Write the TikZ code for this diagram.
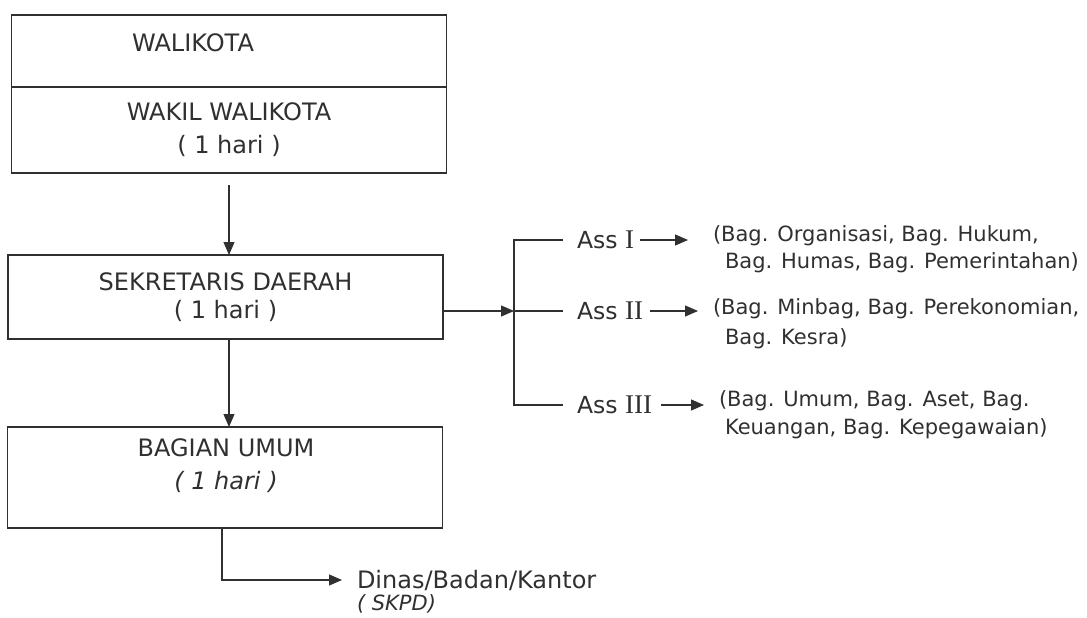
\documentclass[tikz,border=0pt]{standalone}
\usepackage{fontspec}
\setmainfont{DejaVu Sans}
\newfontfamily\numfont{Liberation Serif}
\usetikzlibrary{arrows.meta}
\definecolor{ink}{HTML}{303030}

\begin{document}
\begin{tikzpicture}[x=1pt, y=-1pt, line width=1.1pt, draw=ink, text=ink,
            every node/.style = {inner sep = 0pt,
                                 outer sep = 0pt,
                                 font = \fontsize{24}{28}\selectfont},
            box/.style        = {draw,
                                 minimum width = 435pt},
            asslbl/.style     = {anchor = west,
                                 font = \fontsize{23.5}{28}\selectfont},
            bagtxt/.style     = {anchor = north west,
                                 align = left,
                                 font = \fontsize{21}{28}\selectfont},
            arr/.style        = {-{Triangle[length=13pt, width=11pt]}}
            ]
            \useasboundingbox (0,0) rectangle (1087,618);

            % left column
            \node [box, minimum height = 72pt] (wali) at (229,51) {};
            \node (walitxt) at (193,43) {WALIKOTA};
            \node [box, minimum height = 86pt,
                   align = center] (wakil) at (229,130)
                   {WAKIL WALIKOTA\\[5pt]( 1 hari )};
            \node [box, minimum height = 84pt,
                   align = center] (sekda) at (225.5,297)
                   {SEKRETARIS DAERAH\\( 1 hari )};
            \node [box, minimum height = 101pt] (bagian) at (225,477.5) {};
            \node [align = center] (bagtxt) at (226,466)
                   {BAGIAN UMUM\\[5pt]{\itshape ( 1 hari )}};

            \draw [arr] ([yshift=-12pt]wakil.south) -- (sekda.north -| wakil.south);
            \draw [arr] (sekda.south -| wakil.south) -- (bagian.north -| wakil.south);

            % assisten
            \coordinate (fork) at (514,311);
            \node [asslbl] (ass1) at (577,240) {Ass {\numfont\fontsize{27}{28}\selectfont I}};
            \node [asslbl] (ass2) at (577,311) {Ass {\numfont\fontsize{27}{28}\selectfont II}};
            \node [asslbl] (ass3) at (577,405) {Ass {\numfont\fontsize{27}{28}\selectfont III}};
            \draw [arr] (sekda.east |- fork) -- (fork);
            \draw ([xshift=-14pt]ass1.west) -| (fork) |- ([xshift=-14pt]ass3.west);
            \draw (fork) -- ([xshift=-14pt]ass2.west);

            \node [bagtxt] (bag1) at (713,226)
                   {(Bag. Organisasi, Bag. Hukum,\\[-1pt]\hspace*{12pt}Bag. Humas, Bag. Pemerintahan)};
            \node [bagtxt] (bag2) at (713,299)
                   {(Bag. Minbag, Bag. Perekonomian,\\[2pt]\hspace*{12pt}Bag. Kesra)};
            \node [bagtxt] (bag3) at (719,391)
                   {(Bag. Umum, Bag. Aset, Bag.\\\hspace*{6pt}Keuangan, Bag. Kepegawaian)};

            \draw [arr, shorten <=6pt, shorten >=25pt] (ass1.east) -- (ass1 -| bag1.west);
            \draw [arr, shorten <=7pt, shorten >=15pt] (ass2.east) -- (ass2 -| bag2.west);
            \draw [arr, shorten <=9pt, shorten >=15pt] (ass3.east) -- (ass3 -| bag3.west);

            % dinas
            \node [anchor = west] (dinas) at (357,580) {Dinas/Badan/Kantor};
            \node [anchor = west, font = \fontsize{21}{24}\selectfont\itshape] (skpd) at (357,604) {( SKPD)};
            \draw [arr, shorten >=15pt] ([xshift=-3pt]bagian.south) |- (dinas.west);
\end{tikzpicture}
\end{document}
